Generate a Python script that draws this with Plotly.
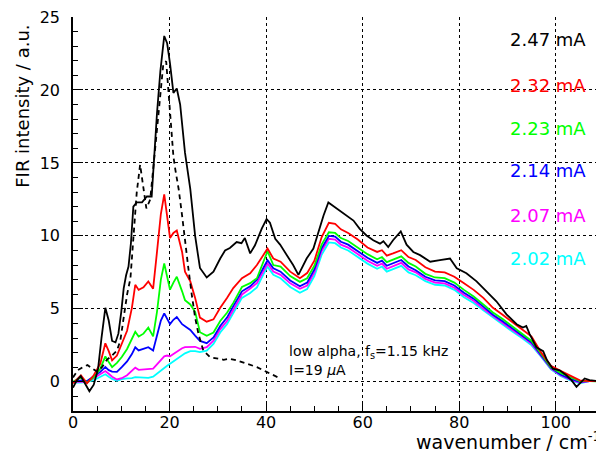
import plotly.graph_objects as go

# ---------------- data ----------------
x_black = [0, 0.8, 1.6, 2.5, 3.4, 4.3, 5.2, 5.9, 6.7, 7.4, 8.1, 8.8, 9.4, 10.0, 10.5, 11.0, 11.5, 12.0,
           12.5, 13.2, 14.3, 15.3, 16.3, 17.4, 18.1, 18.9, 19.5, 20.1, 20.8, 21.5, 22.2, 23.2, 24.3,
           25.3, 26.3, 27.7, 29.1, 30.5, 31.5, 32.5, 33.9, 34.9, 35.6, 36.7, 37.7, 39.1, 40.1, 40.8,
           41.9, 42.9, 44.3, 45.6, 46.7, 47.4, 48.4, 49.8, 50.8, 51.9, 52.9, 53.9, 55.3, 56.7, 58.1,
           59.4, 60.8, 62.2, 63.6, 64.3, 65.3, 66.3, 67.9, 69.1, 70.5, 71.9, 74, 76, 78.1, 79.5, 81.5,
           83.6, 85.7, 87.7, 89.8, 91.9, 93.2, 93.9, 94.6, 96, 97.4, 98.2, 99.4, 100.8, 102.2, 103.3,
           104.3, 105.2, 106, 107, 110]
y_black = [-0.4, 0.1, 0.4, -0.1, -0.65, -0.2, 0.9, 3.0, 5.07, 4.2, 2.8, 2.7, 3.3, 4.8, 6.4, 7.3, 7.9, 9.5,
           12.0, 12.3, 12.3, 12.7, 12.7, 18.4, 21.3, 23.7, 23.2, 21.8, 19.8, 20.1, 19.0, 15.7, 13.2,
           10.0, 7.8, 7.15, 7.55, 8.45, 9.0, 9.17, 9.58, 9.5, 9.85, 8.8, 9.36, 10.5, 11.15, 10.9,
           9.8, 9.4, 8.68, 8.0, 7.33, 7.8, 8.45, 9.13, 10.26, 11.4, 12.29, 12.06, 11.72, 11.39, 11.05,
           10.48, 10.03, 9.7, 9.47, 9.63, 9.24, 9.7, 10.3, 9.4, 8.9, 8.68, 8.23, 8.34, 8.45, 7.78, 7.44,
           6.88, 6.2, 5.52, 4.62, 3.95, 3.72, 3.83, 3.27, 2.37, 2.1, 1.47, 0.9, 0.79, 0.45, 0.1,
           -0.34, -0.05, 0.23, 0.11, 0.0]

x_low = [0, 0.8, 1.65, 2.9, 4.3, 5.65, 6.7, 7.4, 8.1, 9.1, 10.1, 11.2, 12.2, 12.9, 13.6, 14.6, 15.6,
         16.6, 17.4, 18.2, 18.9, 19.5, 20.1, 20.8, 21.5, 22.6, 23.2, 24.3, 25.3, 26.3, 27.7, 29.1,
         30.5, 31.9, 33.2, 35, 36.7, 38.1, 39.4, 40.3, 41.5, 43, 45, 47, 48.5, 50, 51.5, 53, 54.3,
         55.5, 57, 59, 61, 63, 64, 65, 66.3, 68, 69.5, 71, 73, 75, 77, 79, 81, 83, 85, 87, 89, 91,
         93, 95, 97, 99, 101, 103, 105, 107, 110]
y_red = [-0.1, 0.2, 0.45, -0.1, 0.45, 1.24, 2.64, 2.1, 1.47, 1.8, 2.6, 3.5, 5.07, 6.65, 6.3, 6.47, 6.88,
         6.38, 8.9, 11.5, 12.85, 11.5, 9.85, 10.2, 10.37, 8.9, 7.55, 6.88, 5.75, 4.4, 4.12, 4.28,
         5.07, 5.75, 6.42, 7.1, 7.44, 8.0, 8.68, 9.13, 8.45, 8.23, 7.55, 7.1, 7.45, 8.3, 9.9, 10.9,
         10.82, 10.45, 10.2, 9.75, 9.2, 8.9, 9.02, 8.65, 8.8, 9.02, 8.55, 8.35, 7.85, 7.55, 7.5, 7.2,
         6.75, 6.3, 5.75, 5.07, 4.6, 4.1, 3.6, 3.1, 2.0, 1.1, 0.75, 0.45, 0.1, 0.05, 0.05]
y_green = [0.0, 0.15, 0.3, -0.05, 0.3, 0.9, 1.74, 1.35, 1.01, 1.3, 1.7, 2.25, 2.9, 3.43, 3.1, 3.3, 3.72,
           3.11, 4.8, 7.0, 8.11, 7.2, 6.31, 6.8, 7.2, 6.2, 5.6, 5.3, 4.8, 3.4, 3.16, 3.38,
           4.17, 4.73, 5.41, 6.5, 6.76, 7.1, 8.23, 8.95, 8.0, 7.9, 7.25, 6.85, 7.1, 7.95, 9.4, 10.25,
           10.2, 9.85, 9.65, 9.2, 8.75, 8.4, 8.55, 8.2, 8.35, 8.6, 8.15, 7.9, 7.4, 7.15, 7.1, 6.8,
           6.3, 5.85, 5.3, 4.75, 4.3, 3.8, 3.35, 2.8, 1.9, 1.0, 0.6, 0.3, 0.05, 0.05, 0.0]
y_blue = [0.0, 0.05, 0.1, 0.05, 0.34, 0.68, 1.01, 0.8, 0.7, 0.68, 1.0, 1.4, 1.9, 2.37, 2.15, 2.25, 2.37,
          2.14, 3.1, 4.2, 4.69, 4.3, 3.95, 4.25, 4.44, 3.95, 3.8, 3.55, 3.16, 2.8, 2.65, 3.04,
          3.83, 4.4, 5.19, 6.2, 6.54, 6.99, 7.78, 8.34, 7.78, 7.55, 6.95, 6.55, 6.8, 7.7, 9.15, 10.0,
          9.95, 9.6, 9.4, 8.95, 8.5, 8.15, 8.3, 7.95, 8.1, 8.35, 7.9, 7.65, 7.2, 6.95, 6.9, 6.6,
          6.1, 5.7, 5.15, 4.6, 4.15, 3.65, 3.2, 2.7, 1.8, 0.95, 0.5, 0.2, 0.0, 0.05, 0.05]
y_magenta = [0.0, 0.0, 0.05, 0.0, 0.25, 0.52, 0.74, 0.55, 0.35, 0.16, 0.25, 0.45, 0.75, 0.97, 0.82, 0.85,
             0.9, 0.9, 1.2, 1.5, 1.75, 1.8, 1.75, 1.9, 2.08, 2.3, 2.38, 2.41, 2.4, 2.26, 2.37, 2.82,
             3.61, 4.17, 4.96, 5.98, 6.4, 6.76, 7.55, 8.11, 7.55, 7.33, 6.75, 6.38, 6.6, 7.5, 8.95, 9.8,
             9.75, 9.4, 9.2, 8.75, 8.3, 7.95, 8.1, 7.75, 7.9, 8.15, 7.7, 7.5, 7.05, 6.8, 6.75, 6.45,
             5.95, 5.55, 5.0, 4.5, 4.05, 3.55, 3.1, 2.6, 1.75, 0.9, 0.45, 0.15, -0.05, 0.05, 0.05]
y_cyan = [0.0, -0.05, -0.05, 0.0, 0.11, 0.34, 0.52, 0.35, 0.2, 0.07, 0.18, 0.23, 0.25, 0.32, 0.3, 0.27,
          0.27, 0.35, 0.57, 0.8, 1.0, 1.1, 1.24, 1.4, 1.58, 1.85, 1.95, 2.1, 2.1, 2.03, 2.14, 2.6,
          3.38, 3.95, 4.73, 5.75, 6.09, 6.47, 7.33, 7.89, 7.33, 7.1, 6.5, 6.1, 6.35, 7.25, 8.7, 9.55,
          9.5, 9.2, 9.0, 8.55, 8.1, 7.75, 7.9, 7.55, 7.7, 7.95, 7.5, 7.3, 6.9, 6.65, 6.6, 6.3,
          5.8, 5.4, 4.9, 4.4, 3.95, 3.45, 3.0, 2.5, 1.7, 0.85, 0.4, 0.1, -0.1, 0.05, 0.05]

x_dash = [0, 1.0, 2.0, 3.0, 4.0, 5.0, 6.0, 7.0, 8.1, 9.1, 9.8, 10.5, 11.2, 11.9, 12.5, 13.2, 13.9, 14.5,
          15.2, 16.0, 17.1, 18.1, 18.7, 19.3, 19.8, 20.1, 20.5, 20.8, 21.2, 21.9, 22.6, 23.2, 23.9,
          24.6, 25.3, 26.0, 27.0, 28.4, 29.8, 31.2, 32.5, 33.9, 36.0, 38.1, 40.1, 42.5]
y_dash = [0.3, 0.8, 1.0, 1.15, 0.9, 0.7, 1.0, 1.5, 1.8, 2.14, 2.82, 4.4, 5.98, 7.1, 10.03, 12.96, 14.88,
          13.5, 11.88, 12.5, 16.1, 19.7, 21.75, 21.97, 19.95, 18.6, 17.0, 15.44, 14.54, 13.18, 11.39,
          9.58, 7.78, 5.98, 4.4, 3.27, 2.14, 1.69, 1.58, 1.51, 1.58, 1.47, 1.24, 1.01, 0.68, 0.3]

currents = ["2.47", "2.32", "2.23", "2.14", "2.07", "2.02"]
colors = ["#000000", "#ff0000", "#00ff00", "#0000ff", "#ff00ff", "#00ffff"]
label_y = [23.44, 20.33, 17.36, 14.45, 11.41, 8.43]

x_ticks = [0, 20, 40, 60, 80, 100]
y_ticks = [0, 5, 10, 15, 20, 25]

FONT = "DejaVu Sans"

fig = go.Figure()
series = [(x_black, y_black), (x_low, y_red), (x_low, y_green), (x_low, y_blue),
          (x_low, y_magenta), (x_low, y_cyan)]
# draw lower curves first, black on top like the reference
for (xs, ys), c in reversed(list(zip(series, colors))):
    fig.add_trace(go.Scatter(x=xs, y=ys, mode="lines", line=dict(color=c, width=1.8),
                             showlegend=False, hoverinfo="skip"))
fig.add_trace(go.Scatter(x=x_dash, y=y_dash, mode="lines",
                         line=dict(color="black", width=1.8, dash="5px,4px"),
                         showlegend=False, hoverinfo="skip"))

for cur, c, ly in zip(currents, colors, label_y):
    fig.add_annotation(x=106.6, y=ly, xref="x", yref="y", text=f"{cur} mA", showarrow=False,
                       xanchor="right", yanchor="middle", font=dict(family=FONT, size=18, color=c))

fig.add_annotation(x=44.3, y=2.03, xref="x", yref="y", text="low alpha, f<sub>s</sub>=1.15 kHz",
                   showarrow=False, xanchor="left", yanchor="middle",
                   font=dict(family=FONT, size=14, color="black"))
fig.add_annotation(x=44.3, y=0.79, xref="x", yref="y", text="I=19 <i>μ</i>A",
                   showarrow=False, xanchor="left", yanchor="middle",
                   font=dict(family=FONT, size=14, color="black"))

fig.add_annotation(x=-0.0954, y=0.773, xref="paper", yref="paper", text="FIR intensity / a.u.",
                   textangle=-90, showarrow=False, xanchor="center", yanchor="middle",
                   font=dict(family=FONT, size=18, color="black"))
fig.add_annotation(x=0.998, y=-0.076, xref="paper", yref="paper", text="wavenumber / cm<sup>-1</sup>",
                   showarrow=False, xanchor="right", yanchor="middle",
                   font=dict(family=FONT, size=19, color="black"))

axis_common = dict(showline=True, linecolor="black", linewidth=1.5, mirror=False,
                   ticks="inside", tickcolor="black", tickwidth=1, ticklen=10,
                   showgrid=True, gridcolor="black", gridwidth=1, griddash="dot",
                   zeroline=False, ticklabeloverflow="allow",
                   tickfont=dict(family=FONT, size=16, color="black"))

fig.update_xaxes(range=[0, 110], tickvals=x_ticks, ticktext=[str(v) for v in x_ticks],
                 minor=dict(dtick=5, tick0=0, ticks="inside", ticklen=5, tickcolor="black",
                            showgrid=False),
                 ticklabelstandoff=-4, **axis_common)
fig.update_yaxes(range=[-2, 25], tickvals=y_ticks, ticktext=[str(v) for v in y_ticks],
                 minor=dict(dtick=1, tick0=0, ticks="inside", ticklen=5, tickcolor="black",
                            showgrid=False),
                 ticklabelstandoff=8, **axis_common)

# the page body adds an 8 px margin; size the figure so it fills the 604x456 window
fig.update_layout(width=596, height=448, margin=dict(l=65, r=0, t=4, b=45),
                  paper_bgcolor="white", plot_bgcolor="white",
                  font=dict(family=FONT, color="black"))

fig.write_html("out.html")
